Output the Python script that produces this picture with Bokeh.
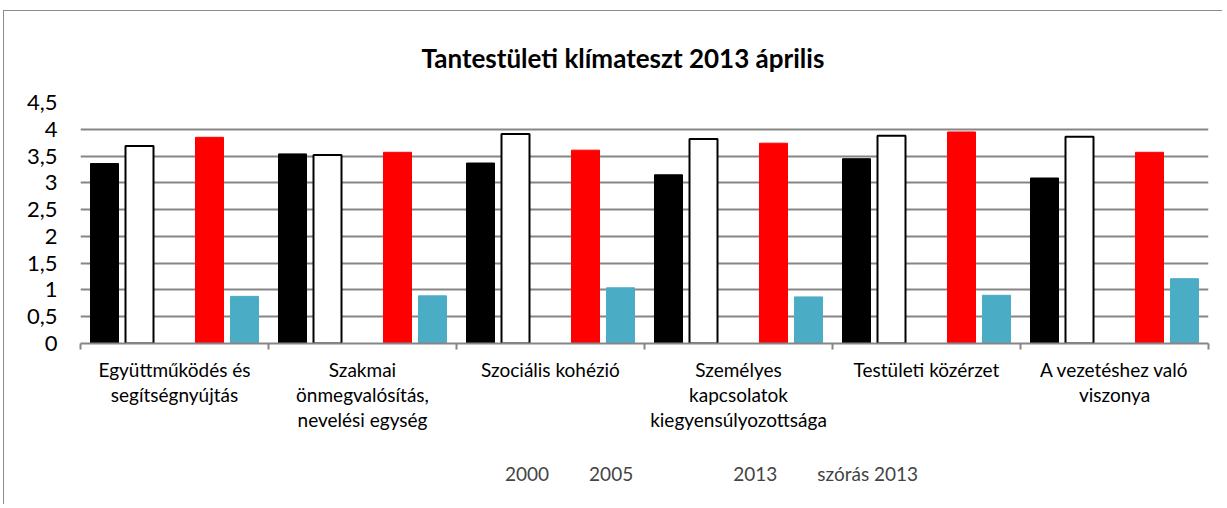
from bokeh.plotting import figure
from bokeh.layouts import column
from bokeh.models import (ColumnDataSource, FixedTicker, Legend, LegendItem, Range1d)
from bokeh.core.properties import value
from bokeh.embed import file_html
from bokeh.resources import INLINE
import numpy as np

categories = ["Együttműködés és\nsegítségnyújtás",
              "Szakmai\nönmegvalósítás,\nnevelési egység",
              "Szociális kohézió",
              "Személyes\nkapcsolatok\nkiegyensúlyozottsága",
              "Testületi közérzet",
              "A vezetéshez való\nviszonya"]
s2000 = [3.36, 3.54, 3.37, 3.15, 3.45, 3.09]
s2005 = [3.69, 3.52, 3.91, 3.82, 3.88, 3.86]
s_blank = [np.nan] * 6
s2013 = [3.85, 3.57, 3.61, 3.74, 3.95, 3.57]
s_sd2013 = [0.88, 0.89, 1.04, 0.87, 0.90, 1.21]
series_names = ["2000", "2005", " ", "2013", "szórás 2013"]
y_ticks = [0, 0.5, 1, 1.5, 2, 2.5, 3, 3.5, 4, 4.5]
y_labels = ["0", "0,5", "1", "1,5", "2", "2,5", "3", "3,5", "4", "4,5"]

FONT = "Lato"

p = figure(width=1219, height=444, output_backend="svg", toolbar_location=None,
           x_range=Range1d(0, 6), y_range=Range1d(0, 4.5),
           min_border_left=76, min_border_right=15, min_border_top=89,
           min_border_bottom=112,
           title="Tantestületi klímateszt 2013 április")
p.styles = {"border-top": "1px solid #8c8c8c", "border-left": "1px solid #8c8c8c"}
p.outline_line_color = None
p.background_fill_color = "white"
p.border_fill_color = "white"

p.title.align = "left"
p.title.offset = 341
p.title.standoff = 57
p.title.text_font = FONT
p.title.text_font_style = "bold"
p.title.text_font_size = "26px"
p.title.text_color = "black"

series = [s2000, s2005, s_blank, s2013, s_sd2013]
fills = ["black", "white", "#9BBB59", "#FF0000", "#4BACC6"]
lines = ["black", "black", "#9BBB59", "#FF0000", "#4BACC6"]
lw = [1, 2, 1, 1, 1]

centers = np.arange(6) + 0.5
bar_w = 28 / 188.0
step = 35 / 188.0
for i, (vals, fc, lc, w) in enumerate(zip(series, fills, lines, lw)):
    xs = centers + (i - 2) * step
    src = ColumnDataSource(dict(x=xs, top=vals))
    p.vbar(x="x", top="top", width=bar_w, bottom=0, source=src,
           fill_color=fc, line_color=lc, line_width=w)

# axes
p.yaxis.ticker = FixedTicker(ticks=y_ticks)
p.yaxis.major_label_overrides = {t: l for t, l in zip(y_ticks, y_labels)}
p.yaxis.axis_line_color = None
p.yaxis.major_tick_line_color = None
p.yaxis.minor_tick_line_color = None
p.yaxis.major_label_text_font = FONT
p.yaxis.major_label_text_font_size = "22px"
p.yaxis.major_label_text_color = "black"
p.yaxis.major_label_standoff = 17

p.xaxis.ticker = FixedTicker(ticks=list(centers), minor_ticks=list(range(7)))
p.xaxis.major_label_overrides = {float(c): lab for c, lab in zip(centers, categories)}
p.xaxis.major_tick_line_color = None
p.xaxis.minor_tick_line_color = "#868686"
p.xaxis.minor_tick_out = 6
p.xaxis.minor_tick_in = 0
p.xaxis.minor_tick_line_width = 2
p.xaxis.axis_line_color = "#868686"
p.xaxis.axis_line_width = 2
p.xaxis.major_label_text_font = FONT
p.xaxis.major_label_text_font_size = "19px"
p.xaxis.major_label_text_color = "black"
p.xaxis.major_label_text_line_height = 1.1
p.xaxis.major_label_standoff = 8
p.xaxis.major_label_orientation = "horizontal"

p.xgrid.grid_line_color = None
p.ygrid.ticker = FixedTicker(ticks=y_ticks[1:])
p.ygrid.grid_line_color = "#868686"
p.ygrid.grid_line_width = 2

# legend strip (separate figure so the legend sits inside its frame)
p2 = figure(width=1219, height=50, output_backend="svg", toolbar_location=None,
            x_range=Range1d(0, 1), y_range=Range1d(0, 1),
            x_axis_type=None, y_axis_type=None,
            min_border_left=0, min_border_right=0, min_border_top=0, min_border_bottom=0)
p2.styles = {"border-left": "1px solid #8c8c8c"}
p2.outline_line_color = None
p2.background_fill_color = "white"
p2.border_fill_color = "white"

leg_renderers = []
for fc, lc, w in zip(fills, lines, lw):
    r = p2.vbar(x="x", top="top", width=0.1, bottom=0,
                source=ColumnDataSource(dict(x=[], top=[])),
                fill_color=fc, line_color=lc, line_width=w)
    leg_renderers.append(r)

items = [LegendItem(label=value(n), renderers=[r]) for n, r in zip(series_names, leg_renderers)]
legend = Legend(items=items, orientation="horizontal", location=(405, 19),
                label_text_font=FONT, label_text_font_size="19px",
                glyph_width=14, glyph_height=14, label_standoff=6, spacing=20,
                padding=0, margin=0, border_line_alpha=0, background_fill_alpha=0,
                label_height=20)
p2.add_layout(legend, "center")

layout = column(p, p2, spacing=0)
layout.styles = {"margin-left": "3px", "margin-top": "10px"}

open("out.html", "w").write(file_html(layout, INLINE))
